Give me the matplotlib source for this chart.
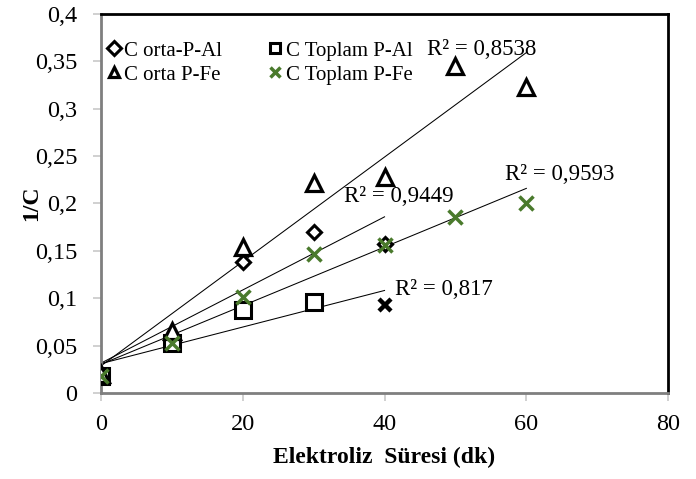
import matplotlib
matplotlib.use("Agg")
import matplotlib.pyplot as plt
import numpy as np

plt.rcParams['font.family'] = ['Liberation Serif', 'DejaVu Serif']

# data
x_al = [0, 10, 20, 30, 40]
orta_al = [0.020, 0.058, 0.1385, 0.170, 0.157]
toplam_al = [0.018, 0.053, 0.088, 0.096, 0.093]
x_fe = [0, 10, 20, 30, 40, 50, 60]
orta_fe = [0.020, 0.065, 0.154, 0.222, 0.228, 0.345, 0.323]
toplam_fe = [0.018, 0.053, 0.1016, 0.147, 0.156, 0.186, 0.200]

r2_labels = ['R² = 0,9449', 'R² = 0,817', 'R² = 0,8538', 'R² = 0,9593']
r2_pos = [(34.3, 0.207), (41.5, 0.109), (46.0, 0.362), (57.0, 0.231)]

yticks = [0, 0.05, 0.1, 0.15, 0.2, 0.25, 0.3, 0.35, 0.4]
ytick_labels = ['0', '0,05', '0,1', '0,15', '0,2', '0,25', '0,3', '0,35', '0,4']
xticks = [0, 20, 40, 60, 80]

green = '#4a7a2c'

fig = plt.figure(figsize=(6.96, 4.79), dpi=100)
ax = fig.add_axes([0.145, 0.1795, 0.815, 0.7915])

# trend lines
for xs, ys in [(x_al, orta_al), (x_al, toplam_al), (x_fe, orta_fe), (x_fe, toplam_fe)]:
    k, b = np.polyfit(xs, ys, 1)
    xx = np.array([0, max(xs)])
    ax.plot(xx, k * xx + b, color='black', lw=0.75, zorder=2)

h1, = ax.plot(x_al, orta_al, ls='none', marker='D', ms=7.5, mfc='white', mec='black', mew=2.2, zorder=3)
h2, = ax.plot(x_al[:4], toplam_al[:4], ls='none', marker='s', ms=11, mfc='white', mec='black', mew=2.2, zorder=3)
ax.plot(x_al[4:], toplam_al[4:], ls='none', marker='x', ms=8.5, mec='black', mew=3.2, zorder=3)
h3, = ax.plot(x_fe, orta_fe, ls='none', marker='^', ms=11.5, mfc='white', mec='black', mew=2.3, zorder=4)
h4, = ax.plot(x_fe, toplam_fe, ls='none', marker='x', ms=10, mec=green, mew=2.5, zorder=5)

for lab, (tx, ty) in zip(r2_labels, r2_pos):
    ax.text(tx, ty, lab, fontsize=16.5, va='center', ha='left', zorder=6)

leg = ax.legend([h1, h3, h2, h4], ['C orta-P-Al', 'C orta P-Fe', 'C Toplam P-Al', 'C Toplam P-Fe'],
                ncol=2, loc='upper left', bbox_to_anchor=(-0.005, 0.95), frameon=False,
                fontsize=15, handlelength=0.7, handletextpad=0.15, columnspacing=2.2,
                labelspacing=0.2, borderaxespad=0)
for h in leg.legend_handles:
    h.set_markersize(7)

ax.set_xlim(0, 80)
ax.set_ylim(0, 0.4)
ax.set_xticks(xticks)
ax.set_yticks(yticks)
ax.set_yticklabels(ytick_labels)
ax.tick_params(axis='both', labelsize=17.5, colors='#c8c8c8', labelcolor='black', length=6, width=1.2)
ax.tick_params(axis='y', pad=11)
ax.tick_params(axis='x', pad=9)

for s in ['left', 'bottom']:
    ax.spines[s].set_color('#7f7f7f')
    ax.spines[s].set_linewidth(2)
for s in ['top', 'right']:
    ax.spines[s].set_color('black')
    ax.spines[s].set_linewidth(2)

ax.set_xlabel('Elektroliz  Süresi (dk)', fontsize=17, fontweight='bold')
ax.set_ylabel('1/C', fontsize=17, fontweight='bold')
ax.xaxis.set_label_coords(0.5, -0.142)
ax.yaxis.set_label_coords(-0.103, 0.5)

fig.savefig('out.png', dpi=100)
